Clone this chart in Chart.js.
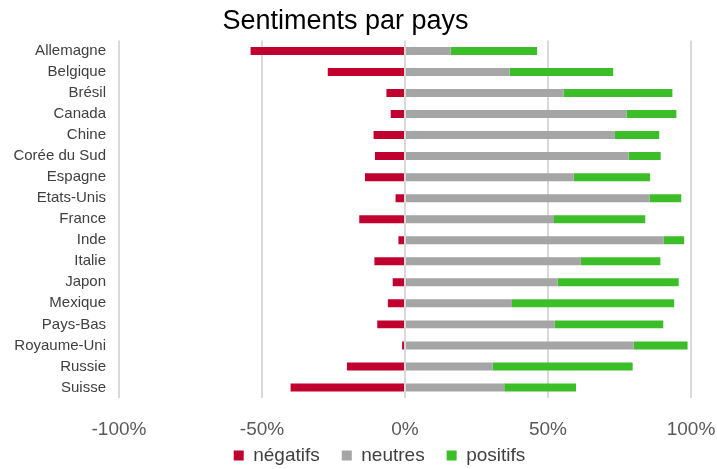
<!DOCTYPE html>
<html>
<head>
<meta charset="utf-8">
<script src="https://cdn.jsdelivr.net/npm/chart.js@4/dist/chart.umd.min.js"></script>
<style>
  html, body { margin: 0; padding: 0; background: #fff; }
  #wrap { width: 717px; height: 469px; }
</style>
</head>
<body>
<div id="wrap"><canvas id="chart"></canvas></div>
<script>
const categories = ['Allemagne', 'Belgique', 'Brésil', 'Canada', 'Chine', 'Corée du Sud', 'Espagne', 'Etats-Unis',
    'France', 'Inde', 'Italie', 'Japon', 'Mexique', 'Pays-Bas', 'Royaume-Uni', 'Russie', 'Suisse'];
// shares in %, négatifs drawn on the left of 0
const negatifs = [-54, -27, -6.5, -5, -11, -10.5, -14, -3.3, -16, -2.3, -10.7, -4.3, -6, -9.7, -1, -20.3, -40];
const neutres = [16, 36.6, 55.5, 77.5, 73.4, 78.2, 59, 85.6, 52.1, 90.5, 61.5, 53.4, 37.4, 52.4, 80, 30.7, 34.7];
const positifs = [30.2, 36.2, 38, 17.4, 15.5, 11.2, 26.7, 11, 31.9, 7.1, 27.8, 42.3, 56.7, 37.9, 18.8, 48.9, 25.1];
const xTicks = [-100, -50, 0, 50, 100];

const FONT = "'Liberation Sans', Arial, sans-serif";

// legend: sits a bit right of the title and close under the axis labels
const nudgeLegend = {
    id: 'nudgeLegend',
    afterLayout(chart) {
        const lg = chart.legend;
        if (!lg) return;
        lg.left += 34;
        lg.right += 34;
        lg.top -= 20;
        lg.bottom = chart.height; // legend clips to its own box
    }
};

new Chart(document.getElementById('chart'), {
    type: 'bar',
    data: {
        labels: categories,
        datasets: [
            { label: 'négatifs', data: negatifs, backgroundColor: '#C0002F' },
            { label: 'neutres', data: neutres, backgroundColor: '#A5A5A5' },
            { label: 'positifs', data: positifs, backgroundColor: '#3CBE28' }
        ]
    },
    options: {
        indexAxis: 'y',
        responsive: true,
        maintainAspectRatio: false,
        animation: false,
        layout: { padding: { top: 0, right: 26, bottom: 0, left: 0 } },
        datasets: { bar: { categoryPercentage: 1, barPercentage: 0.38 } },
        scales: {
            x: {
                stacked: true,
                min: -100,
                max: 100,
                afterBuildTicks: (axis) => { axis.ticks = xTicks.map(v => ({ value: v })); },
                afterFit: (axis) => { axis.height = 46; },
                grid: { color: '#D9D9D9', lineWidth: 2, drawTicks: true, tickLength: 20, tickColor: 'rgba(0,0,0,0)' },
                border: { display: false },
                ticks: {
                    padding: 0,
                    color: '#595959',
                    font: { family: FONT, size: 19 },
                    callback: (v) => v + '%'
                }
            },
            y: {
                stacked: true,
                grid: { display: false, drawTicks: false },
                border: { display: false },
                afterFit: (axis) => { axis.width = 119; },
                ticks: {
                    padding: 13,
                    color: '#404040',
                    font: { family: FONT, size: 15 },
                    autoSkip: false
                }
            }
        },
        plugins: {
            title: {
                display: true,
                text: 'Sentiments par pays',
                color: '#000',
                font: { family: FONT, size: 27, weight: 'normal' },
                padding: { top: 5, bottom: 3 }
            },
            legend: {
                position: 'bottom',
                maxHeight: 25,
                labels: {
                    boxWidth: 10,
                    boxHeight: 10,
                    padding: 22,
                    color: '#404040',
                    font: { family: FONT, size: 19 }
                }
            },
            tooltip: { enabled: false }
        }
    },
    plugins: [nudgeLegend]
});
</script>
</body>
</html>
